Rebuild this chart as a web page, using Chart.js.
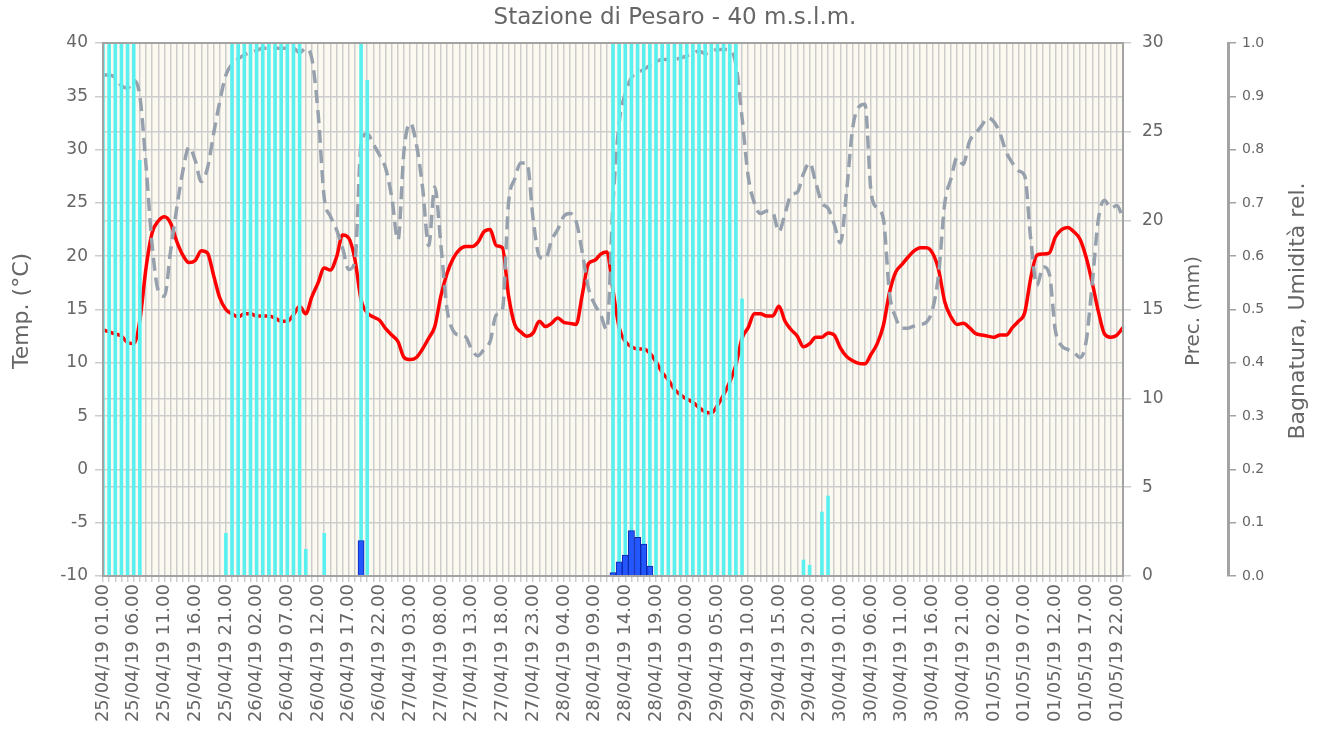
<!DOCTYPE html>
<html>
<head>
<meta charset="utf-8">
<title>Stazione di Pesaro</title>
<script src="https://cdn.jsdelivr.net/npm/chart.js@4.4.1/dist/chart.umd.min.js"></script>
<style>
  html, body { margin: 0; padding: 0; background: #fff; }
</style>
</head>
<body>
<canvas id="meteoChart" width="1320" height="749"></canvas>
<script>
// Hourly data, 25/04/19 01.00 -> 01/05/19 23.00

// Temp. (°C)
const temperature = [
  13.1, 12.9, 12.7, 12.5, 11.9, 11.8, 14.0, 18.9, 22.2, 23.3, 23.7, 23.1, 21.4, 20.1, 19.4, 19.6, 20.5, 20.3, 18.2, 16.1, 15.0, 14.6, 14.3, 14.6,
  14.6, 14.4, 14.4, 14.4, 14.2, 13.9, 13.9, 14.5, 15.3, 14.6, 16.2, 17.5, 18.9, 18.7, 19.9, 22.0, 21.7, 19.7, 15.9, 14.7, 14.3, 14.0, 13.2, 12.6,
  12.0, 10.5, 10.3, 10.5, 11.3, 12.3, 13.4, 16.3, 18.4, 19.8, 20.6, 20.9, 20.9, 21.3, 22.3, 22.5, 21.0, 20.8, 16.3, 13.6, 12.9, 12.5, 12.8, 13.9,
  13.4, 13.7, 14.2, 13.8, 13.7, 13.6, 16.4, 19.3, 19.6, 20.2, 20.4, 16.8, 13.3, 12.0, 11.5, 11.3, 11.3, 10.9, 10.1, 9.1, 8.4, 7.5, 7.0, 6.6,
  6.3, 5.8, 5.4, 5.3, 6.0, 7.0, 8.2, 9.8, 12.3, 13.3, 14.6, 14.6, 14.4, 14.4, 15.3, 13.9, 13.1, 12.5, 11.5, 11.8, 12.4, 12.4, 12.8, 12.6,
  11.4, 10.6, 10.2, 9.95, 9.9, 10.8, 11.8, 13.5, 16.6, 18.5, 19.2, 19.9, 20.5, 20.8, 20.8, 20.3, 18.7, 15.7, 14.3, 13.6, 13.7, 13.3, 12.75, 12.6,
  12.5, 12.4, 12.6, 12.6, 13.3, 13.9, 14.7, 18.0, 20.1, 20.2, 20.3, 21.8, 22.5, 22.7, 22.3, 21.6, 19.9, 17.5, 14.8, 12.7, 12.4, 12.6, 13.3
];

// Umidità rel. (0-1)
const humidity = [
  0.94, 0.94, 0.935, 0.92, 0.915, 0.93, 0.90, 0.77, 0.62, 0.535, 0.525, 0.61, 0.69, 0.76, 0.805, 0.78, 0.74, 0.765, 0.83, 0.89, 0.94, 0.96, 0.97, 0.978,
  0.982, 0.986, 0.99, 0.99, 0.99, 0.99, 0.99, 0.99, 0.982, 0.99, 0.97, 0.87, 0.71, 0.675, 0.65, 0.615, 0.575, 0.59, 0.81, 0.83, 0.81, 0.79, 0.765, 0.71,
  0.63, 0.80, 0.85, 0.81, 0.73, 0.62, 0.73, 0.62, 0.50, 0.46, 0.452, 0.449, 0.425, 0.413, 0.425, 0.44, 0.49, 0.50, 0.70, 0.745, 0.775, 0.775, 0.67, 0.60,
  0.595, 0.63, 0.65, 0.675, 0.68, 0.665, 0.607, 0.54, 0.51, 0.49, 0.462, 0.70, 0.85, 0.905, 0.935, 0.945, 0.95, 0.958, 0.965, 0.969, 0.969, 0.969, 0.972, 0.976,
  0.981, 0.985, 0.98, 0.983, 0.988, 0.988, 0.987, 0.96, 0.86, 0.75, 0.70, 0.68, 0.685, 0.682, 0.646, 0.68, 0.715, 0.72, 0.755, 0.775, 0.738, 0.70, 0.69, 0.66,
  0.625, 0.72, 0.84, 0.88, 0.885, 0.72, 0.69, 0.67, 0.53, 0.485, 0.465, 0.465, 0.469, 0.472, 0.476, 0.50, 0.567, 0.70, 0.745, 0.785, 0.772, 0.815, 0.83, 0.845,
  0.86, 0.852, 0.83, 0.795, 0.775, 0.76, 0.751, 0.63, 0.545, 0.58, 0.567, 0.46, 0.432, 0.425, 0.42, 0.41, 0.44, 0.55, 0.67, 0.705, 0.69, 0.695, 0.672
];

// Bagnatura (0-1)
const wetness = [
  1, 1, 1, 1, 1, 1, 0.78, 0, 0, 0, 0, 0, 0, 0, 0, 0, 0, 0, 0, 0, 0.08, 1, 1, 1,
  1, 1, 1, 1, 1, 1, 1, 1, 1, 0.05, 0, 0, 0.08, 0, 0, 0, 0, 0, 1, 0.93, 0, 0, 0, 0,
  0, 0, 0, 0, 0, 0, 0, 0, 0, 0, 0, 0, 0, 0, 0, 0, 0, 0, 0, 0, 0, 0, 0, 0,
  0, 0, 0, 0, 0, 0, 0, 0, 0, 0, 0, 1, 1, 1, 1, 1, 1, 1, 1, 1, 1, 1, 1, 1,
  1, 1, 1, 1, 1, 1, 1, 1, 0.52, 0, 0, 0, 0, 0, 0, 0, 0, 0, 0.03, 0.02, 0, 0.12, 0.15, 0,
  0, 0, 0, 0, 0, 0, 0, 0, 0, 0, 0, 0, 0, 0, 0, 0, 0, 0, 0, 0, 0, 0, 0, 0,
  0, 0, 0, 0, 0, 0, 0, 0, 0, 0, 0, 0, 0, 0, 0, 0, 0, 0, 0, 0, 0, 0, 0
];

// Prec. (mm)
const precipitation = [
  0, 0, 0, 0, 0, 0, 0, 0, 0, 0, 0, 0, 0, 0, 0, 0, 0, 0, 0, 0, 0, 0, 0, 0,
  0, 0, 0, 0, 0, 0, 0, 0, 0, 0, 0, 0, 0, 0, 0, 0, 0, 0, 2.0, 0, 0, 0, 0, 0,
  0, 0, 0, 0, 0, 0, 0, 0, 0, 0, 0, 0, 0, 0, 0, 0, 0, 0, 0, 0, 0, 0, 0, 0,
  0, 0, 0, 0, 0, 0, 0, 0, 0, 0, 0, 0.19, 0.8, 1.18, 2.55, 2.18, 1.8, 0.56, 0, 0, 0, 0, 0, 0,
  0, 0, 0, 0, 0, 0, 0, 0, 0, 0, 0, 0, 0, 0, 0, 0, 0, 0, 0, 0, 0, 0, 0, 0,
  0, 0, 0, 0, 0, 0, 0, 0, 0, 0, 0, 0, 0, 0, 0, 0, 0, 0, 0, 0, 0, 0, 0, 0,
  0, 0, 0, 0, 0, 0, 0, 0, 0, 0, 0, 0, 0, 0, 0, 0, 0, 0, 0, 0, 0, 0, 0
];

// hour labels, one per reading
const pad = n => String(n).padStart(2, '0');
const hourLabels = temperature.map((_, h) => {
  const d = new Date(Date.UTC(2019, 3, 25, 1 + h));
  return pad(d.getUTCDate()) + '/' + pad(d.getUTCMonth() + 1) + '/19 ' + pad(d.getUTCHours()) + '.00';
});

const chartTitle = 'Stazione di Pesaro - 40 m.s.l.m.';
const FONT = '"DejaVu Sans", sans-serif';
const TXT = '#666666';
const GRID = '#cdcdcd';

// cream plot area, frame, main title and axis titles
const decor = {
  id: 'decor',
  beforeDraw(chart) {
    const { ctx, chartArea: a } = chart;
    ctx.save();
    ctx.fillStyle = '#fcfaf0';
    ctx.fillRect(a.left, a.top, a.right - a.left, a.bottom - a.top);
    ctx.restore();
  },
  afterDraw(chart) {
    const { ctx, chartArea: a } = chart;
    ctx.save();
    ctx.strokeStyle = '#a3a3a3';
    ctx.lineWidth = 2;
    ctx.strokeRect(a.left, a.top, a.right - a.left, a.bottom - a.top);

    ctx.fillStyle = TXT;
    ctx.textAlign = 'center';
    ctx.textBaseline = 'middle';
    ctx.font = '23px ' + FONT;
    ctx.fillText(chartTitle, 675, 18);

    // [text, x, font size]
    const side = [['Temp. (°C)', 22, 22], ['Prec. (mm)', 1194, 20], ['Bagnatura, Umidità rel.', 1298, 22]];
    side.forEach(([t, x, fs]) => {
      ctx.save();
      ctx.font = fs + 'px ' + FONT;
      ctx.translate(x, 311);
      ctx.rotate(-Math.PI / 2);
      ctx.fillText(t, 0, 0);
      ctx.restore();
    });
    ctx.restore();
  }
};

new Chart(document.getElementById('meteoChart'), {
  type: 'bar',
  data: {
    labels: hourLabels,
    datasets: [
      {
        type: 'bar',
        label: 'Prec.',
        data: precipitation,
        yAxisID: 'yPrec',
        backgroundColor: '#2458ff',
        borderColor: '#0a24b0',
        borderWidth: 1,
        barPercentage: 1,
        categoryPercentage: 1,
        grouped: false,
        order: 0
      },
      {
        type: 'bar',
        label: 'Bagnatura',
        data: wetness,
        yAxisID: 'yHum',
        backgroundColor: '#5af0f0',
        barThickness: 3,
        grouped: false,
        order: 1
      },
      {
        type: 'line',
        label: 'Umidità rel.',
        data: humidity,
        yAxisID: 'yHum',
        borderColor: '#97a1ad',
        borderWidth: 3.5,
        borderDash: [13, 7],
        pointRadius: 0,
        cubicInterpolationMode: 'monotone',
        order: 2
      },
      {
        type: 'line',
        label: 'Temp.',
        data: temperature,
        yAxisID: 'y',
        borderColor: '#ff0000',
        borderWidth: 3.5,
        pointRadius: 0,
        cubicInterpolationMode: 'monotone',
        order: 3
      }
    ]
  },
  options: {
    responsive: false,
    animation: false,
    layout: { padding: { top: 43, left: 0, right: 0, bottom: 0 } },
    plugins: {
      legend: { display: false },
      tooltip: { enabled: false },
      title: { display: false }
    },
    scales: {
      x: {
        offset: false,
        grid: { color: GRID, lineWidth: 1.5, offset: false, tickLength: 6 },
        border: { color: '#a3a3a3', width: 2 },
        ticks: {
          autoSkip: false,
          minRotation: 90,
          maxRotation: 90,
          padding: 2,
          color: TXT,
          font: { family: FONT, size: 18 },
          callback: (v, i) => (i % 5 === 0 ? hourLabels[i] : '')
        },
        afterFit: s => { s.height = 173; }
      },
      y: {
        position: 'left',
        min: -10,
        max: 40,
        grid: { color: GRID, lineWidth: 1.5, tickLength: 8 },
        border: { color: '#a3a3a3', width: 2 },
        ticks: { stepSize: 5, padding: 7, color: TXT, font: { family: FONT, size: 17 } },
        afterFit: s => { s.width = 103; }
      },
      yPrec: {
        position: 'right',
        min: 0,
        max: 30,
        grid: { color: GRID, lineWidth: 1.5, tickLength: 8 },
        border: { color: '#a3a3a3', width: 2 },
        ticks: { stepSize: 5, padding: 11, color: TXT, font: { family: FONT, size: 17 } },
        afterFit: s => { s.width = 105; }
      },
      yHum: {
        position: 'right',
        min: 0,
        max: 1,
        grid: { drawOnChartArea: false, color: '#a3a3a3', lineWidth: 1.5, tickLength: 8 },
        border: { color: '#a3a3a3', width: 3 },
        ticks: {
          stepSize: 0.1,
          padding: 6,
          color: TXT,
          font: { family: FONT, size: 14 },
          callback: v => v.toFixed(1)
        },
        afterFit: s => { s.width = 92; }
      }
    }
  },
  plugins: [decor]
});
</script>
</body>
</html>
